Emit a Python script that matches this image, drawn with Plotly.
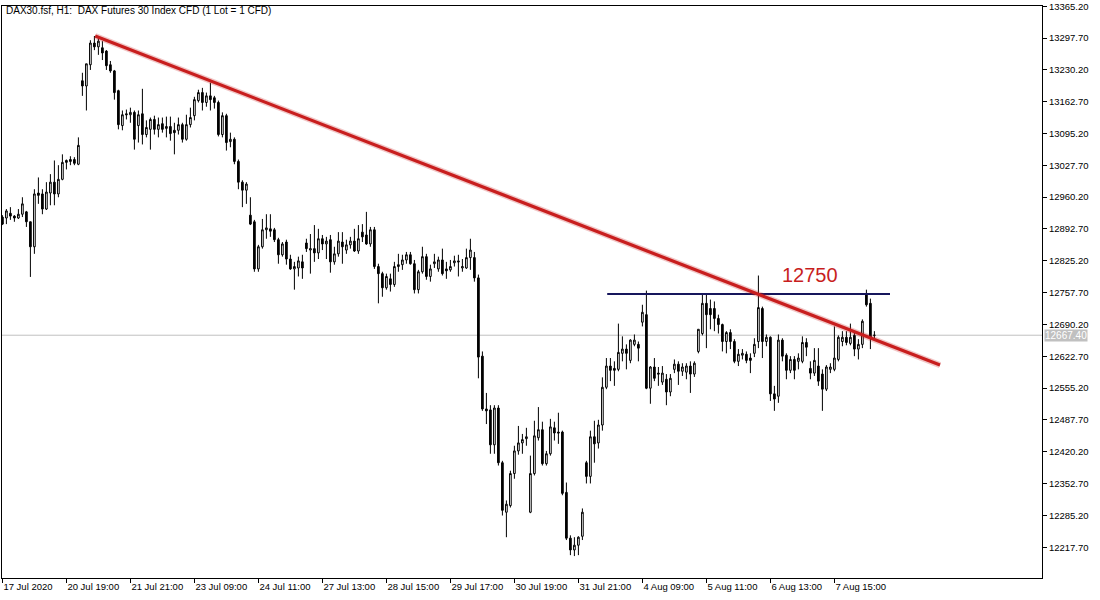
import plotly.graph_objects as go

# ---- data (H1 candles) ----
open_ = [12918,12916,12926,12920,12916,12924,12929,12908,12855,12969,
         12967,12935,12969,12992,12967,12998,13038,13040,13040,13030,
         13207,13196,13241,13287,13279,13277,13270,13241,13228,13186,
         13112,13137,13135,13140,13112,13137,13093,13104,13125,13104,
         13116,13106,13110,13102,13102,13114,13083,13114,13133,13165,
         13182,13161,13175,13171,13161,13093,13133,13078,13083,13036,
         12992,12975,12922,12908,12808,12855,12891,12893,12891,12870,
         12838,12865,12829,12808,12810,12823,12863,12848,12851,12842,
         12872,12861,12870,12823,12840,12865,12848,12859,12867,12846,
         12886,12880,12861,12891,12813,12798,12768,12787,12775,12813,
         12817,12827,12838,12819,12764,12802,12834,12792,12819,12808,
         12827,12808,12806,12821,12825,12810,12810,12832,12832,12789,
         12623,12511,12509,12435,12513,12397,12292,12306,12374,12422,
         12439,12448,12292,12374,12450,12467,12395,12416,12471,12462,
         12462,12334,12237,12212,12222,12241,12397,12368,12452,12439,
         12477,12557,12602,12597,12595,12629,12638,12614,12648,12648,
         12695,12711,12555,12600,12587,12568,12574,12547,12595,12606,
         12591,12589,12602,12585,12633,12671,12735,12724,12724,12703,
         12690,12654,12673,12654,12612,12625,12627,12619,12629,12654,
         12724,12654,12663,12543,12538,12657,12625,12593,12616,12612,
         12612,12652,12597,12587,12602,12585,12553,12595,12595,12616,
         12654,12663,12650,12667,12638,12648,12756,12735,12667]
high = [12922,12935,12939,12922,12935,12960,12931,12908,12977,13002,
        12977,12992,13009,13038,13028,13051,13040,13047,13045,13087,
        13224,13243,13293,13302,13302,13291,13272,13249,13230,13188,
        13144,13146,13150,13144,13144,13190,13123,13129,13133,13129,
        13129,13131,13131,13118,13129,13118,13135,13150,13173,13188,
        13192,13182,13203,13175,13165,13140,13137,13097,13087,13040,
        12996,12992,12960,12912,12859,12914,12924,12924,12895,12874,
        12865,12870,12838,12823,12834,12838,12872,12882,12901,12893,
        12880,12876,12880,12855,12886,12886,12870,12876,12893,12901,
        12903,12929,12897,12897,12819,12802,12798,12798,12823,12840,
        12838,12844,12844,12827,12806,12855,12840,12817,12840,12834,
        12851,12823,12827,12836,12838,12829,12851,12872,12844,12796,
        12633,12545,12519,12519,12519,12401,12317,12380,12433,12475,
        12458,12471,12412,12486,12515,12484,12422,12490,12484,12503,
        12465,12355,12243,12239,12241,12300,12401,12465,12486,12488,
        12578,12619,12619,12612,12692,12665,12648,12659,12669,12654,
        12732,12762,12602,12619,12600,12602,12585,12585,12616,12612,
        12608,12608,12612,12612,12680,12754,12754,12743,12739,12711,
        12692,12676,12680,12659,12638,12638,12633,12629,12661,12794,
        12728,12669,12665,12560,12669,12661,12629,12623,12623,12629,
        12665,12661,12612,12640,12640,12595,12604,12608,12686,12667,
        12676,12676,12692,12676,12659,12701,12764,12745,12676]
low = [12901,12903,12912,12908,12914,12918,12897,12791,12840,12946,
       12924,12933,12943,12943,12960,12996,13019,13028,13028,13028,
       13175,13144,13230,13272,13262,13251,13230,13224,13167,13104,
       13102,13125,13118,13061,13076,13072,13087,13061,13093,13087,
       13097,13087,13080,13051,13093,13076,13080,13108,13123,13161,
       13144,13152,13144,13148,13089,13087,13059,13066,13030,12977,
       12939,12946,12901,12802,12802,12851,12872,12876,12865,12819,
       12834,12817,12806,12764,12792,12787,12844,12798,12823,12829,
       12848,12829,12800,12817,12834,12819,12840,12851,12844,12840,
       12865,12859,12855,12808,12735,12749,12764,12760,12770,12802,
       12806,12819,12817,12756,12756,12798,12785,12781,12810,12802,
       12794,12787,12802,12813,12792,12802,12808,12806,12781,12576,
       12507,12479,12416,12416,12391,12285,12239,12302,12363,12414,
       12416,12433,12290,12370,12444,12391,12391,12412,12444,12437,
       12328,12233,12201,12199,12201,12233,12353,12353,12397,12427,
       12465,12553,12570,12560,12591,12612,12595,12608,12644,12612,
       12686,12553,12522,12570,12560,12562,12519,12538,12587,12562,
       12581,12574,12545,12579,12629,12667,12640,12680,12676,12671,
       12633,12629,12638,12608,12602,12616,12608,12587,12621,12640,
       12619,12644,12528,12507,12524,12612,12574,12587,12574,12595,
       12608,12623,12574,12581,12560,12507,12549,12587,12591,12612,
       12644,12646,12646,12623,12616,12640,12728,12638,12659]
close = [12903,12931,12920,12916,12924,12946,12908,12855,12967,12964,
         12935,12971,12992,12967,12998,13034,13034,13036,13032,13070,
         13196,13243,13287,13279,13291,13266,13239,13228,13182,13114,
         13135,13135,13140,13083,13135,13093,13108,13125,13104,13114,
         13104,13110,13095,13097,13114,13083,13114,13129,13167,13182,
         13161,13175,13167,13161,13093,13133,13076,13083,13036,12992,
         12975,12988,12903,12808,12855,12891,12895,12888,12870,12838,
         12861,12829,12808,12813,12825,12810,12851,12851,12842,12872,
         12861,12867,12823,12840,12867,12855,12859,12867,12846,12872,
         12876,12861,12891,12813,12798,12768,12792,12775,12813,12817,
         12827,12838,12819,12764,12802,12834,12792,12808,12823,12827,
         12798,12804,12813,12825,12823,12813,12832,12848,12789,12621,
         12511,12507,12435,12513,12397,12296,12309,12374,12422,12439,
         12446,12452,12374,12454,12467,12395,12416,12473,12460,12460,
         12332,12237,12212,12222,12239,12292,12368,12452,12437,12477,
         12557,12602,12593,12593,12631,12638,12629,12657,12657,12640,
         12716,12555,12600,12576,12585,12587,12547,12576,12606,12591,
         12600,12602,12585,12608,12680,12735,12711,12711,12703,12690,
         12654,12673,12654,12612,12627,12629,12614,12614,12648,12726,
         12654,12663,12543,12532,12657,12623,12593,12616,12593,12619,
         12652,12642,12587,12614,12570,12553,12600,12600,12619,12663,
         12663,12652,12663,12638,12648,12697,12732,12661,12667.4]
bars = list(range(len(close)))

x_tick_pos = [0, 16, 32, 48, 64, 80, 96, 112, 128, 144, 160, 176, 192, 208]
x_tick_text = ["17 Jul 2020", "20 Jul 19:00", "21 Jul 21:00", "23 Jul 09:00",
               "24 Jul 11:00", "27 Jul 13:00", "28 Jul 15:00", "29 Jul 17:00",
               "30 Jul 19:00", "31 Jul 21:00", "4 Aug 09:00", "5 Aug 11:00",
               "6 Aug 13:00", "7 Aug 15:00"]
y_tick_vals = [13365.2, 13297.7, 13230.2, 13162.7, 13095.2, 13027.7, 12960.2,
               12892.7, 12825.2, 12757.7, 12690.2, 12622.7, 12555.2, 12487.7,
               12420.2, 12352.7, 12285.2, 12217.7]
y_range = [12152.5, 13365.6]
x_range = [-0.1, 259.9]

trend_x = [23.2, 234.4]
trend_y = [13302, 12604]
level_x = [151.2, 221.9]
level_y = [12755, 12755]
level_label = "12750"
label_pos = (202, 12796)
last_price = 12667.4
title_text = "DAX30.fsf, H1:\u00a0 DAX Futures 30 Index CFD (1 Lot = 1 CFD)"

FONT = "Liberation Sans, Arial, sans-serif"

fig = go.Figure()
fig.add_trace(go.Candlestick(
    x=bars, open=open_, high=high, low=low, close=close,
    increasing=dict(line=dict(color="black", width=1), fillcolor="white"),
    decreasing=dict(line=dict(color="black", width=1), fillcolor="black"),
    whiskerwidth=0, showlegend=False, hoverinfo="skip"))

fig.add_trace(go.Scatter(x=level_x, y=level_y, mode="lines",
                         line=dict(color="#16165c", width=2),
                         showlegend=False, hoverinfo="skip"))
fig.add_trace(go.Scatter(x=trend_x, y=trend_y, mode="lines",
                         line=dict(color="rgba(200,30,30,0.25)", width=6),
                         showlegend=False, hoverinfo="skip"))
fig.add_trace(go.Scatter(x=trend_x, y=trend_y, mode="lines",
                         line=dict(color="#c81e1e", width=3.2),
                         showlegend=False, hoverinfo="skip"))

fig.add_shape(type="line", xref="paper", x0=0, x1=1, yref="y",
              y0=last_price, y1=last_price,
              line=dict(color="#c0c0c0", width=1), layer="below")

fig.add_annotation(x=1, xref="paper", y=last_price, yref="y",
                   text=f"{last_price:.2f}", showarrow=False,
                   xanchor="left", yanchor="middle", xshift=2,
                   bgcolor="#c0c0c0", borderpad=0,
                   font=dict(family=FONT, size=10, color="white"))

fig.add_annotation(x=label_pos[0], y=label_pos[1], text=level_label,
                   showarrow=False, xanchor="center", yanchor="middle",
                   font=dict(family=FONT, size=20, color="#c81e1e"))

fig.add_annotation(x=0, xref="paper", y=1, yref="paper", text=title_text,
                   showarrow=False, xanchor="left", yanchor="top",
                   xshift=2, yshift=3,
                   font=dict(family=FONT, size=10, color="black"))

fig.update_layout(
    width=1100, height=600,
    margin=dict(l=2, r=58, t=6, b=22, pad=0, autoexpand=False),
    paper_bgcolor="white", plot_bgcolor="white",
    boxgap=0.4,
    font=dict(family=FONT, size=9.5, color="black"),
    xaxis=dict(range=x_range, tickmode="array", tickvals=x_tick_pos,
               ticktext=x_tick_text, ticks="outside", ticklen=4,
               tickcolor="black", showline=True, linecolor="black",
               linewidth=1, mirror=True, showgrid=False, zeroline=False,
               ticklabelposition="outside right", automargin=False,
               rangeslider=dict(visible=False),
               tickfont=dict(family=FONT, size=9.5, color="black")),
    yaxis=dict(range=y_range, side="right", tickmode="array",
               tickvals=y_tick_vals,
               ticktext=[f"{v:.2f}" for v in y_tick_vals],
               ticks="outside", ticklen=4, tickcolor="black",
               showline=True, linecolor="black", linewidth=1, mirror=True,
               showgrid=False, zeroline=False, ticklabeloverflow="allow",
               automargin=False,
               tickfont=dict(family=FONT, size=9.5, color="black")),
)

fig.write_html("out.html", config={"displayModeBar": False},
               post_script="document.body.style.margin='0';document.body.style.overflow='hidden';")
